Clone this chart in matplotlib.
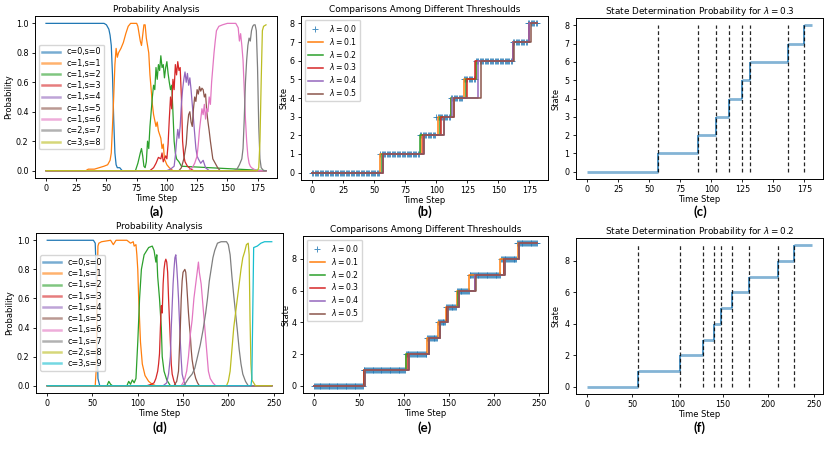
import numpy as np
import matplotlib
matplotlib.use("Agg")
import matplotlib.pyplot as plt
from matplotlib.lines import Line2D

# ---------------- data ----------------
# Panel (a): probability curves (time, probability) vertices
a_labels = ["c=0,s=0", "c=1,s=1", "c=1,s=2", "c=1,s=3", "c=1,s=4",
            "c=1,s=5", "c=1,s=6", "c=2,s=7", "c=3,s=8"]
a_t = [
    [0, 48, 50, 52, 53, 54, 55, 56, 57, 58, 59, 61, 63, 182],
    [0, 33, 35, 40, 44, 48, 51, 53, 54, 55, 56, 57, 58, 59, 60, 62, 64, 66, 68, 70, 75, 76, 77, 78, 79,
     80, 81, 82, 83, 84, 85, 86, 87, 88, 89, 91, 92, 93, 95, 96, 97, 98, 100, 102, 105, 182],
    [0, 74, 76, 78, 79, 80, 81, 82, 83, 84, 85, 86, 87, 88, 89, 90, 91, 92, 93, 94, 95, 96, 97, 98, 99,
     100, 101, 102, 103, 104, 105, 106, 107, 108, 110, 112, 182],
    [0, 86, 89, 91, 93, 95, 96, 97, 99, 100, 101, 102, 103, 104, 105, 106, 107, 108, 109, 110, 111, 112,
     113, 114, 115, 117, 120, 122, 182],
    [0, 100, 103, 106, 107, 108, 109, 110, 111, 112, 113, 114, 115, 116, 117, 118, 119, 120, 121, 122,
     123, 124, 125, 126, 128, 130, 132, 135, 182],
    [0, 110, 112, 114, 116, 117, 118, 119, 120, 121, 122, 123, 124, 125, 126, 127, 128, 129, 130, 131,
     132, 133, 134, 135, 136, 137, 138, 140, 142, 144, 182],
    [0, 118, 121, 123, 125, 126, 127, 128, 129, 130, 131, 132, 133, 134, 135, 136, 137, 138, 139, 140,
     141, 143, 146, 150, 157, 159, 160, 161, 162, 163, 164, 165, 166, 167, 168, 169, 170, 172, 174, 182],
    [0, 155, 158, 160, 162, 163, 164, 165, 166, 167, 168, 169, 170, 171, 172, 173, 174, 175, 176, 177,
     178, 180, 182],
    [0, 175, 176, 177, 178, 179, 180, 182],
]
a_p = [
    [1.0, 1.0, 0.99, 0.96, 0.92, 0.85, 0.65, 0.35, 0.12, 0.04, 0.02, 0.02, 0.0, 0.0],
    [0, 0, 0.01, 0.01, 0.02, 0.03, 0.04, 0.07, 0.12, 0.3, 0.5, 0.72, 0.83, 0.77, 0.8, 0.83, 0.87, 0.93,
     0.98, 1.0, 1.0, 0.98, 0.93, 0.88, 0.85, 0.92, 0.99, 0.99, 0.9, 0.85, 0.8, 0.65, 0.55, 0.45, 0.38,
     0.3, 0.33, 0.27, 0.22, 0.15, 0.18, 0.08, 0.04, 0.02, 0.0, 0.0],
    [0, 0, 0.05, 0.12, 0.15, 0.1, 0.03, 0.02, 0.06, 0.2, 0.15, 0.3, 0.4, 0.5, 0.58, 0.55, 0.7, 0.62,
     0.72, 0.68, 0.78, 0.7, 0.72, 0.63, 0.7, 0.74, 0.66, 0.6, 0.55, 0.58, 0.4, 0.2, 0.12, 0.08, 0.06,
     0.03, 0.0],
    [0, 0, 0.02, 0.05, 0.09, 0.08, 0.12, 0.06, 0.1, 0.08, 0.18, 0.35, 0.5, 0.42, 0.62, 0.55, 0.72, 0.65,
     0.74, 0.68, 0.7, 0.5, 0.2, 0.1, 0.06, 0.03, 0.01, 0, 0],
    [0, 0, 0.01, 0.03, 0.1, 0.2, 0.28, 0.22, 0.3, 0.45, 0.55, 0.62, 0.67, 0.6, 0.66, 0.58, 0.63, 0.55,
     0.45, 0.35, 0.25, 0.15, 0.1, 0.08, 0.05, 0.07, 0.02, 0, 0],
    [0, 0, 0.02, 0.08, 0.18, 0.3, 0.38, 0.4, 0.33, 0.3, 0.42, 0.5, 0.47, 0.55, 0.52, 0.57, 0.54, 0.56,
     0.55, 0.5, 0.52, 0.4, 0.33, 0.27, 0.2, 0.14, 0.08, 0.05, 0.02, 0, 0],
    [0, 0, 0.02, 0.05, 0.1, 0.18, 0.28, 0.35, 0.42, 0.38, 0.45, 0.35, 0.42, 0.4, 0.5, 0.45, 0.6, 0.7,
     0.8, 0.88, 0.95, 0.98, 0.99, 1.0, 1.0, 0.97, 0.88, 0.93, 0.85, 0.75, 0.55, 0.35, 0.2, 0.1, 0.05,
     0.03, 0.02, 0.01, 0, 0],
    [0, 0, 0.01, 0.04, 0.08, 0.15, 0.35, 0.6, 0.75, 0.85, 0.9, 0.88, 0.95, 0.98, 0.99, 0.99, 0.95, 0.7,
     0.3, 0.08, 0.02, 0, 0],
    [0, 0, 0.02, 0.2, 0.6, 0.95, 0.98, 0.99],
]

# Panel (d)
d_labels = ["c=0,s=0", "c=1,s=1", "c=1,s=2", "c=1,s=3", "c=1,s=4",
            "c=1,s=5", "c=1,s=6", "c=1,s=7", "c=2,s=8", "c=3,s=9"]
d_t = [
    [0, 51, 53, 54, 55, 56, 58, 248],
    [0, 53, 54, 55, 56, 57, 60, 70, 73, 76, 88, 92, 95, 96, 98, 99, 100, 101, 103, 105, 108, 112, 116,
     120, 248],
    [0, 66, 68, 70, 72, 88, 90, 92, 94, 96, 98, 100, 101, 102, 104, 107, 112, 116, 118, 120, 121, 122,
     124, 126, 127, 129, 132, 136, 248],
    [0, 110, 115, 118, 120, 122, 123, 124, 125, 126, 127, 128, 129, 130, 131, 132, 133, 134, 135, 136,
     137, 138, 140, 142, 248],
    [0, 128, 132, 134, 136, 137, 138, 139, 140, 141, 142, 143, 144, 145, 146, 147, 148, 149, 151, 153,
     248],
    [0, 140, 143, 145, 146, 147, 148, 149, 150, 152, 153, 154, 155, 156, 157, 158, 159, 160, 162, 164,
     166, 168, 248],
    [0, 148, 150, 152, 154, 156, 158, 160, 162, 164, 166, 167, 168, 170, 172, 174, 176, 178, 180, 183,
     186, 248],
    [0, 150, 153, 156, 160, 163, 166, 169, 172, 175, 177, 179, 181, 183, 185, 188, 192, 198, 200, 202,
     204, 206, 208, 210, 212, 214, 216, 219, 222, 248],
    [0, 198, 200, 202, 204, 206, 208, 210, 212, 214, 216, 218, 220, 222, 223, 224, 225, 226, 228, 230,
     248],
    [0, 225, 226, 227, 228, 232, 236, 240, 248],
]
d_p = [
    [1.0, 1.0, 0.98, 0.8, 0.4, 0.05, 0.0, 0.0],
    [0, 0, 0.1, 0.6, 0.96, 0.98, 0.99, 1.0, 0.97, 1.0, 1.0, 0.98, 0.99, 0.96, 0.97, 0.9, 0.8, 0.6, 0.3,
     0.15, 0.07, 0.03, 0.01, 0, 0],
    [0, 0, 0.03, 0.01, 0, 0, 0.03, 0.01, 0.04, 0.02, 0.05, 0.3, 0.45, 0.6, 0.8, 0.9, 0.95, 0.96, 0.93,
     0.85, 0.9, 0.75, 0.6, 0.4, 0.2, 0.1, 0.04, 0, 0],
    [0, 0, 0.01, 0.02, 0.05, 0.1, 0.15, 0.22, 0.4, 0.55, 0.5, 0.7, 0.8, 0.85, 0.87, 0.85, 0.78, 0.6,
     0.45, 0.3, 0.15, 0.08, 0.03, 0, 0],
    [0, 0, 0.02, 0.08, 0.2, 0.4, 0.55, 0.7, 0.8, 0.88, 0.9, 0.82, 0.72, 0.6, 0.45, 0.3, 0.18, 0.08,
     0.03, 0, 0],
    [0, 0, 0.03, 0.1, 0.25, 0.4, 0.6, 0.72, 0.78, 0.8, 0.78, 0.7, 0.6, 0.5, 0.42, 0.35, 0.25, 0.18, 0.1,
     0.05, 0.02, 0, 0],
    [0, 0, 0.02, 0.05, 0.1, 0.2, 0.35, 0.45, 0.6, 0.7, 0.8, 0.85, 0.78, 0.7, 0.55, 0.4, 0.25, 0.1, 0.05,
     0.02, 0, 0],
    [0, 0, 0.02, 0.05, 0.08, 0.12, 0.2, 0.28, 0.38, 0.5, 0.6, 0.72, 0.8, 0.88, 0.93, 0.98, 0.99, 0.99,
     0.97, 0.9, 0.75, 0.62, 0.5, 0.38, 0.25, 0.15, 0.08, 0.03, 0, 0],
    [0, 0, 0.03, 0.1, 0.25, 0.4, 0.5, 0.6, 0.7, 0.8, 0.88, 0.92, 0.97, 0.98, 0.9, 0.45, 0.15, 0.04,
     0.02, 0, 0],
    [0, 0, 0.05, 0.5, 0.95, 0.96, 0.98, 0.99, 0.99],
]

# Panel (b): state change times per threshold (first row, 0..181)
b_end = 181
b_lambdas = ["0.0", "0.1", "0.2", "0.3", "0.4", "0.5"]
b_change_t = [
    [55, 87, 100, 112, 122, 132, 162, 174],
    [55, 88, 101, 112, 122, 132, 162, 175],
    [56, 87, 103, 112, 124, 132, 162, 175],
    [57, 89, 104, 114, 125, 131, 162, 175],
    [57, 90, 106, 113, 134, 162, 175],
    [57, 90, 106, 114, 136, 163, 176],
]
b_change_s = [
    [1, 2, 3, 4, 5, 6, 7, 8],
    [1, 2, 3, 4, 5, 6, 7, 8],
    [1, 2, 3, 4, 5, 6, 7, 8],
    [1, 2, 3, 4, 5, 6, 7, 8],
    [1, 2, 3, 4, 6, 7, 8],
    [1, 2, 3, 4, 6, 7, 8],
]

# Panel (e): second row, 0..248
e_end = 248
e_change_t = [
    [55, 102, 126, 138, 147, 159, 173, 208, 226],
    [55, 102, 126, 138, 147, 159, 172, 207, 227],
    [56, 102, 128, 140, 148, 160, 179, 211, 228],
    [56, 104, 128, 140, 148, 161, 179, 211, 228],
    [57, 106, 128, 140, 149, 161, 179, 212, 228],
    [57, 106, 128, 140, 149, 161, 180, 212, 228],
]
e_change_s = [[1, 2, 3, 4, 5, 6, 7, 8, 9]] * 6

# Panel (c): lambda = 0.3 (row 1), panel (f): lambda = 0.2 (row 2)
c_change_t = [57, 89, 104, 114, 125, 131, 162, 175]
c_states = [1, 2, 3, 4, 5, 6, 7, 8]
f_change_t = [56, 102, 128, 140, 148, 160, 179, 211, 228]
f_states = [1, 2, 3, 4, 5, 6, 7, 8, 9]

# ---------------- style ----------------
plt.rcParams['font.family'] = ['DejaVu Sans']
plt.rcParams['font.size'] = 6
plt.rcParams['axes.linewidth'] = 0.7
plt.rcParams['xtick.major.size'] = 2.4
plt.rcParams['ytick.major.size'] = 2.4
plt.rcParams['xtick.major.width'] = 0.6
plt.rcParams['ytick.major.width'] = 0.6
plt.rcParams['xtick.major.pad'] = 1.8
plt.rcParams['ytick.major.pad'] = 2.2
plt.rcParams['xtick.labelsize'] = 5.8
plt.rcParams['ytick.labelsize'] = 5.8
plt.rcParams['axes.labelsize'] = 6
plt.rcParams['axes.titlesize'] = 6.4
plt.rcParams['axes.titlepad'] = 3
plt.rcParams['axes.labelpad'] = 0.8

W, H = 831, 449
fig = plt.figure(figsize=(W / 100, H / 100), dpi=100)


def add_ax(l, r, t, b):
    return fig.add_axes([l / W, 1 - b / H, (r - l) / W, (b - t) / H])


colors = plt.rcParams['axes.prop_cycle'].by_key()['color']


def prob_panel(ax, ts, ps, labels, xt):
    for i, (t, p) in enumerate(zip(ts, ps)):
        ax.plot(t, p, color=colors[i % 10], lw=0.9)
    handles = [Line2D([], [], color=colors[i % 10], lw=1.8, alpha=0.6) for i in range(len(labels))]
    ax.legend(handles, labels, loc='center left', fontsize=5.8, labelspacing=0.28,
              handlelength=2.2, handletextpad=0.9, borderpad=0.35, framealpha=0.8,
              edgecolor='#cccccc', fancybox=True)
    ax.set_xticks(xt)
    ax.set_yticks([0, 0.2, 0.4, 0.6, 0.8, 1.0])
    ax.set_title("Probability Analysis")
    ax.set_xlabel("Time Step")
    ax.set_ylabel("Probability", labelpad=2)


def states_per_step(change_t, change_s, end):
    steps = np.arange(0, end + 1)
    idx = np.searchsorted(np.array(change_t), steps, side='right')
    st = np.concatenate([[0], change_s])
    return steps, st[idx]


def compare_panel(ax, change_ts, change_ss, end, xt, yt):
    for i, (ct, cs) in enumerate(zip(change_ts, change_ss)):
        lab = r"$\lambda = %s$" % b_lambdas[i]
        if i == 0:
            steps, st = states_per_step(ct, cs, end)
            ax.plot(steps, st, linestyle='none', marker='+', ms=4.5, mew=0.7,
                    color=colors[0], alpha=0.8, label=lab)
        else:
            x = [0] + list(ct) + [end]
            y = [0] + list(cs) + [cs[-1]]
            ax.step(x, y, where='post', color=colors[i], lw=1.1, label=lab)
    ax.legend(loc='upper left', fontsize=5.6, labelspacing=0.25, handlelength=2.0,
              handletextpad=0.8, borderpad=0.35, edgecolor='#cccccc')
    ax.set_xticks(xt)
    ax.set_yticks(yt)
    ax.set_title("Comparisons Among Different Threshoulds")
    ax.set_xlabel("Time Step")
    ax.set_ylabel("State", labelpad=1)


def determ_panel(ax, ct, cs, end, xt, yt, lam):
    starts = [0] + list(ct)
    ends = list(ct) + [end]
    levels = [0] + list(cs)
    ax.hlines(levels, starts, ends, color=colors[0], alpha=0.55, lw=2.0)
    ax.vlines(ct, [s - 1 for s in cs], cs, color=colors[0], lw=1.1)
    ax.vlines(ct, 0, cs[-1], colors='k', linestyles=(0, (3.0, 2.0)), lw=0.9, alpha=0.85)
    ax.set_xticks(xt)
    ax.set_yticks(yt)
    ax.set_title(r"State Determination Probability for $\lambda = %s$" % lam)
    ax.set_xlabel("Time Step")
    ax.set_ylabel("State", labelpad=3)


ax_a = add_ax(35, 277, 16, 178)
prob_panel(ax_a, a_t, a_p, a_labels, [0, 25, 50, 75, 100, 125, 150, 175])
ax_d = add_ax(36, 283, 233, 393)
prob_panel(ax_d, d_t, d_p, d_labels, [0, 50, 100, 150, 200, 250])

ax_b = add_ax(301, 548, 16, 180)
compare_panel(ax_b, b_change_t, b_change_s, b_end, [0, 25, 50, 75, 100, 125, 150, 175], range(0, 9))
ax_e = add_ax(303, 548, 236, 393)
compare_panel(ax_e, e_change_t, e_change_s, e_end, [0, 50, 100, 150, 200, 250], [0, 2, 4, 6, 8])

ax_c = add_ax(576, 823, 18, 179)
determ_panel(ax_c, c_change_t, c_states, b_end, [0, 25, 50, 75, 100, 125, 150, 175], range(0, 9), "0.3")
ax_f = add_ax(576, 823, 238, 394)
determ_panel(ax_f, f_change_t, f_states, e_end, [0, 50, 100, 150, 200, 250], [0, 2, 4, 6, 8], "0.2")

panel_labels = ["(a)", "(b)", "(c)", "(d)", "(e)", "(f)"]
label_xy = [(156, 212), (425, 212), (700, 212), (160, 428), (425, 428), (700, 428)]
for lab, (x, y) in zip(panel_labels, label_xy):
    fig.text(x / W, 1 - y / H, lab, ha='center', va='center', fontsize=9.5,
             fontweight='bold', family=['Lato', 'DejaVu Sans'])

fig.savefig("out.png", dpi=100)
